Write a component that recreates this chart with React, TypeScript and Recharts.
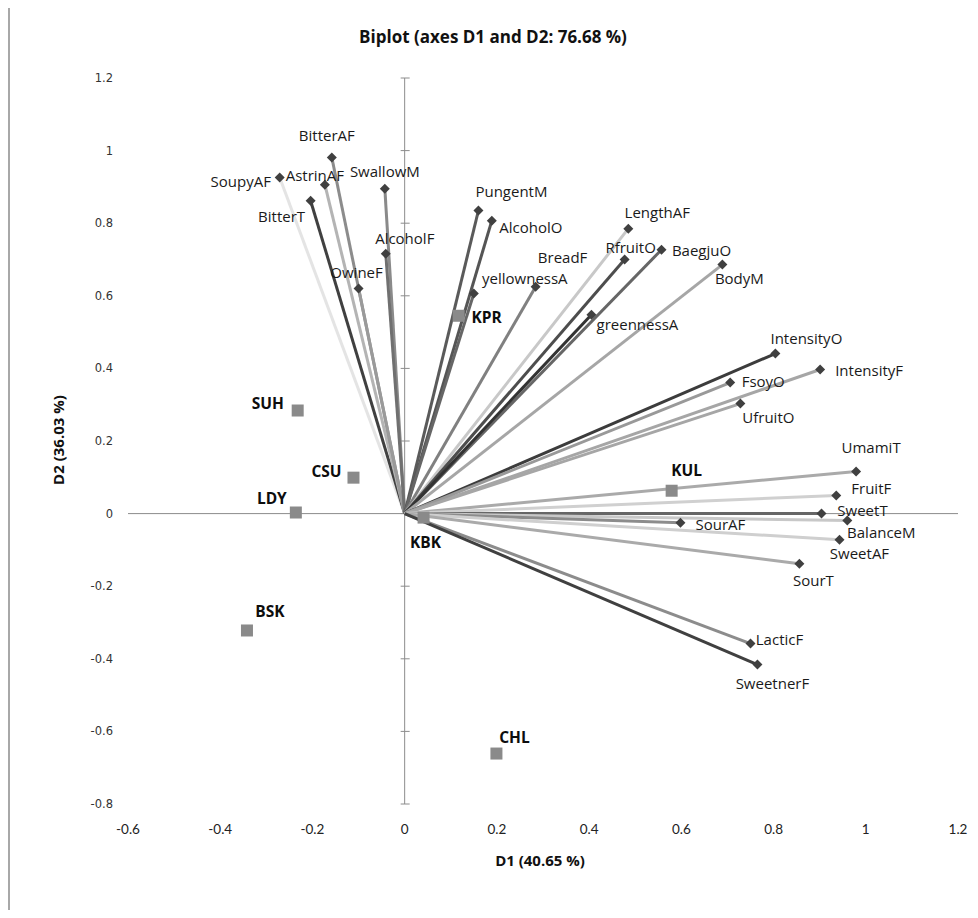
import React from 'react';
import { ScatterChart, Scatter, XAxis, YAxis, ReferenceLine } from 'recharts';

// active variables (loadings on D1 / D2)
const varNames = [
  'SoupyAF', 'BitterT', 'AstrinAF', 'BitterAF', 'OwineF', 'SwallowM', 'AlcoholF',
  'PungentM', 'AlcoholO', 'yellownessA', 'BreadF', 'LengthAF', 'RfruitO', 'BaegjuO',
  'greennessA', 'BodyM', 'IntensityO', 'IntensityF', 'FsoyO', 'UfruitO', 'UmamiT',
  'FruitF', 'SweetT', 'BalanceM', 'SourAF', 'SweetAF', 'SourT', 'LacticF', 'SweetnerF',
];
const varD1 = [
  -0.271, -0.204, -0.173, -0.158, -0.1, -0.043, -0.041,
  0.16, 0.189, 0.15, 0.284, 0.485, 0.477, 0.557,
  0.405, 0.689, 0.804, 0.901, 0.706, 0.728, 0.979,
  0.936, 0.904, 0.96, 0.598, 0.943, 0.856, 0.75, 0.765,
];
const varD2 = [
  0.926, 0.862, 0.906, 0.981, 0.62, 0.895, 0.716,
  0.835, 0.807, 0.606, 0.625, 0.785, 0.7, 0.727,
  0.548, 0.686, 0.441, 0.397, 0.361, 0.303, 0.116,
  0.05, 0.0, -0.019, -0.025, -0.072, -0.138, -0.358, -0.416,
];

// observations (products)
const obsNames = ['SUH', 'CSU', 'LDY', 'KBK', 'BSK', 'CHL', 'KUL', 'KPR'];
const obsD1 = [-0.232, -0.111, -0.236, 0.041, -0.342, 0.199, 0.579, 0.117];
const obsD2 = [0.284, 0.099, 0.003, -0.011, -0.322, -0.661, 0.063, 0.545];

const xTicks = [-0.6, -0.4, -0.2, 0, 0.2, 0.4, 0.6, 0.8, 1, 1.2];
const yTicks = [-0.8, -0.6, -0.4, -0.2, 0, 0.2, 0.4, 0.6, 0.8, 1, 1.2];

const varData = varNames.map((name, i) => ({ name, x: varD1[i], y: varD2[i] }));
const obsData = obsNames.map((name, i) => ({ name, x: obsD1[i], y: obsD2[i] }));
const tickMarks = yTicks.map((t) => ({ x: 0, y: t }));

const lineColor: Record<string, string> = {
  SoupyAF: '#e4e4e4', BitterT: '#404040', AstrinAF: '#b4b4b4', BitterAF: '#8c8c8c',
  OwineF: '#9a9a9a', SwallowM: '#8a8a8a', AlcoholF: '#707070', PungentM: '#5a5a5a',
  AlcoholO: '#555555', yellownessA: '#666666', BreadF: '#808080', LengthAF: '#c8c8c8',
  RfruitO: '#4d4d4d', BaegjuO: '#666666', greennessA: '#333333', BodyM: '#a6a6a6',
  IntensityO: '#3c3c3c', IntensityF: '#a6a6a6', FsoyO: '#999999', UfruitO: '#a6a6a6',
  UmamiT: '#aaaaaa', FruitF: '#d0d0d0', SweetT: '#666666', BalanceM: '#c8c8c8',
  SourAF: '#8c8c8c', SweetAF: '#cfcfcf', SourT: '#aaaaaa', LacticF: '#8c8c8c',
  SweetnerF: '#404040',
};

// label centre relative to the marker, px
const varLabelOffset: Record<string, [number, number]> = {
  SoupyAF: [-39, 4], BitterAF: [-5, -22], AstrinAF: [-10, -10], SwallowM: [0, -18],
  BitterT: [-29, 15], AlcoholF: [19, -16], OwineF: [-2, -17], PungentM: [33, -19],
  AlcoholO: [39, 6], BreadF: [27, -30], yellownessA: [51, -16], LengthAF: [29, -17],
  RfruitO: [6, -13], BaegjuO: [40, 0], BodyM: [17, 13], greennessA: [46, 9],
  IntensityO: [31, -16], IntensityF: [49, 1], FsoyO: [33, -2], UfruitO: [28, 13],
  UmamiT: [15, -24], FruitF: [35, -7], SweetT: [41, -4], BalanceM: [34, 12],
  SourAF: [40, 1], SweetAF: [20, 13], SourT: [14, 16], LacticF: [29, -5],
  SweetnerF: [15, 18],
};
const obsLabelOffset: Record<string, [number, number]> = {
  SUH: [-30, -8], CSU: [-27, -7], LDY: [-24, -15], KBK: [2, 24],
  BSK: [23, -19], CHL: [18, -17], KUL: [15, -21], KPR: [28, 1],
};

const font = '"Open Sans", Lato, sans-serif';

const NoDot = () => <g />;

const AxisTick = (props: any) => {
  const { cx, cy } = props;
  return <line x1={cx - 4} x2={cx + 5} y1={cy} y2={cy} stroke="#8c8c8c" strokeWidth={1} />;
};

const Diamond = (props: any) => {
  const { cx, cy, payload } = props;
  const [dx, dy] = varLabelOffset[payload.name] || [0, -14];
  return (
    <g>
      <polygon
        points={`${cx},${cy - 5} ${cx + 5},${cy} ${cx},${cy + 5} ${cx - 5},${cy}`}
        fill="#404040"
      />
      <text
        x={cx + dx}
        y={cy + dy}
        textAnchor="middle"
        dominantBaseline="central"
        fontFamily={font}
        fontSize={15}
        fill="#1a1a1a"
      >
        {payload.name}
      </text>
    </g>
  );
};

const Square = (props: any) => {
  const { cx, cy, payload } = props;
  const [dx, dy] = obsLabelOffset[payload.name] || [0, -14];
  return (
    <g>
      <rect x={cx - 6} y={cy - 6} width={12} height={12} fill="#8a8a8a" />
      <text
        x={cx + dx}
        y={cy + dy}
        textAnchor="middle"
        dominantBaseline="central"
        fontFamily={font}
        fontSize={15.5}
        fontWeight="bold"
        fill="#0d0d0d"
      >
        {payload.name}
      </text>
    </g>
  );
};

const fmt = (v: number) => String(Math.round(v * 10) / 10);

export default function App() {
  return (
    <div style={{ position: 'relative', width: 962, height: 902 }}>
      <div
        style={{
          position: 'absolute', left: 0, top: -2, width: 968, height: 910,
          borderTop: '2px solid #a8a8a8', borderLeft: '2px solid #a8a8a8',
        }}
      />
      <div
        style={{
          position: 'absolute', left: 0, top: 17, width: 970, textAlign: 'center',
          fontFamily: font, fontWeight: 'bold', fontSize: 17, color: '#111',
        }}
      >
        Biplot (axes D1 and D2: 76.68 %)
      </div>
      <div
        style={{
          position: 'absolute', left: 432, top: 842, width: 200, textAlign: 'center',
          fontFamily: font, fontWeight: 'bold', fontSize: 15, color: '#111',
        }}
      >
        D1 (40.65 %)
      </div>
      <div
        style={{
          position: 'absolute', left: -50, top: 422, width: 200, textAlign: 'center',
          fontFamily: font, fontWeight: 'bold', fontSize: 15, color: '#111',
          transform: 'rotate(-90deg)',
        }}
      >
        D2 (36.03 %)
      </div>
      <ScatterChart
        width={962}
        height={902}
        margin={{ top: 70, right: 12, bottom: 66, left: 20 }}
        style={{ position: 'absolute', left: 0, top: 0 }}
      >
        <XAxis
          type="number"
          dataKey="x"
          domain={[-0.6, 1.2]}
          ticks={xTicks}
          tickFormatter={fmt}
          axisLine={false}
          tickLine={false}
          tickSize={0}
          tickMargin={20}
          height={40}
          tick={{ fontFamily: 'Lato, sans-serif', fontSize: 13.5, fill: '#222' }}
        />
        <YAxis
          type="number"
          dataKey="y"
          domain={[-0.8, 1.2]}
          ticks={yTicks}
          tickFormatter={fmt}
          axisLine={false}
          tickLine={false}
          tickSize={0}
          tickMargin={15}
          width={100}
          tick={{ fontFamily: '"DejaVu Sans", sans-serif', fontSize: 11.5, fill: '#333' }}
        />
        <ReferenceLine x={0} stroke="#8c8c8c" strokeWidth={1} />
        <ReferenceLine y={0} stroke="#8c8c8c" strokeWidth={1} />
        <Scatter data={tickMarks} shape={AxisTick} isAnimationActive={false} />
        {varData.map((d) => (
          <Scatter
            key={`line-${d.name}`}
            data={[{ x: 0, y: 0 }, { x: d.x, y: d.y }]}
            line={{ stroke: lineColor[d.name], strokeWidth: 3 }}
            shape={NoDot}
            isAnimationActive={false}
          />
        ))}
        <Scatter data={varData} shape={Diamond} isAnimationActive={false} />
        <Scatter data={obsData} shape={Square} isAnimationActive={false} />
      </ScatterChart>
    </div>
  );
}
